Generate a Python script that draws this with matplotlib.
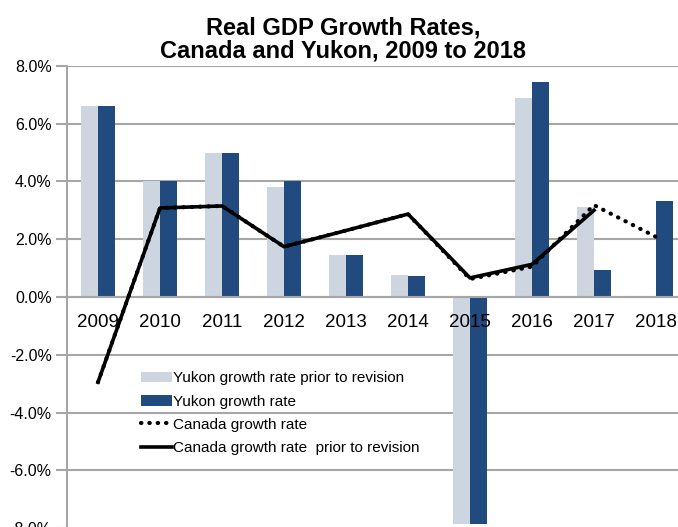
import numpy as np
import matplotlib.pyplot as plt
from matplotlib.ticker import FuncFormatter

plt.rcParams['font.family'] = ['Liberation Sans', 'DejaVu Sans']

years = ['2009', '2010', '2011', '2012', '2013', '2014', '2015', '2016', '2017', '2018']
yukon_prior = [6.6, 4.0, 5.0, 3.8, 1.45, 0.75, -7.85, 6.9, 3.12, np.nan]
yukon_rate = [6.62, 4.0, 5.0, 4.0, 1.45, 0.72, -7.85, 7.45, 0.93, 3.33]
canada_rate = [-2.95, 3.08, 3.15, 1.74, 2.3, 2.87, 0.62, 1.05, 3.18, 2.08]
canada_prior = [-2.95, 3.08, 3.15, 1.74, 2.3, 2.87, 0.66, 1.13, 3.0, np.nan]
yticks = np.arange(-8, 9, 2)

light = '#CDD5E1'
dark = '#214A7E'
grid = '#A6A6A6'

fig = plt.figure(figsize=(6.78, 5.27), dpi=100)
ax = fig.add_axes([67 / 678, -0.002, 620 / 678, 0.877])

x = np.arange(len(years))
w = 0.28
# gridlines drawn under everything, axis labels stay on top of bars
for t in yticks:
    ax.axhline(t, color=grid, linewidth=1.5, zorder=0.5)

b1 = ax.bar(x - w / 2, yukon_prior, w, color=light, label='Yukon growth rate prior to revision', zorder=2)
b2 = ax.bar(x + w / 2, yukon_rate, w, color=dark, label='Yukon growth rate', zorder=2)
l1, = ax.plot(x, canada_rate, color='black', linestyle=(0, (0.1, 1.9)), linewidth=3,
              dash_capstyle='round', label='Canada growth rate', zorder=3)
l2, = ax.plot(x, canada_prior, color='black', linewidth=2.6,
              label='Canada growth rate  prior to revision', zorder=4)

ax.set_xlim(-0.5, 9.5)
ax.set_ylim(-8, 8)
ax.set_yticks(yticks)
ax.yaxis.set_major_formatter(FuncFormatter(lambda v, p: f'{v:.1f}%'))
ax.set_axisbelow(False)

for s in ['top', 'right']:
    ax.spines[s].set_visible(False)
ax.spines['left'].set_color(grid)
ax.spines['left'].set_linewidth(1.5)
ax.spines['bottom'].set_position(('data', 0))
ax.spines['bottom'].set_color(grid)
ax.spines['bottom'].set_linewidth(1.5)

ax.set_xticks(x)
ax.set_xticklabels(years)
ax.tick_params(axis='x', length=0, pad=12, labelsize=13.5)
ax.tick_params(axis='y', length=8, width=1.5, color=grid, pad=3, labelsize=11.5)

leg = ax.legend(handles=[b1, b2, l1, l2], loc='upper left', bbox_to_anchor=(0.11, 0.352),
                frameon=False, fontsize=11, handlelength=2.0, handletextpad=0.1,
                labelspacing=0.6, borderaxespad=0)

fig.text(0.506, 0.925, 'Real GDP Growth Rates,\nCanada and Yukon, 2009 to 2018',
         ha='center', va='center', fontsize=17, fontweight='bold', linespacing=1.0)

fig.savefig('out.png', dpi=100)
